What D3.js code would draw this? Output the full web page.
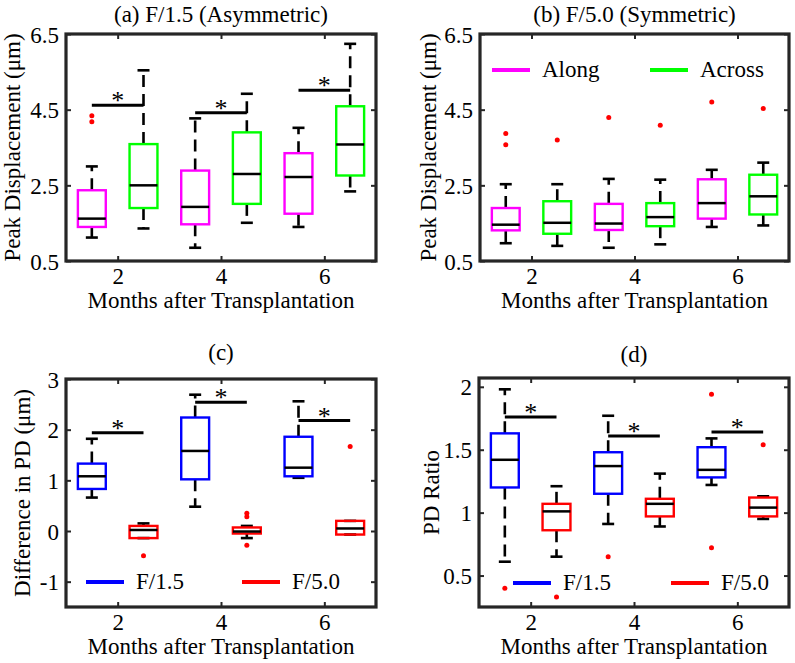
<!DOCTYPE html>
<html><head><meta charset="utf-8">
<script src="https://cdn.jsdelivr.net/npm/d3@7"></script>
<style>
body{margin:0;background:#fff}
svg{display:block}
text{font-family:"Liberation Serif","Times New Roman",serif;fill:#000}
</style>
</head><body>
<svg id="chart" width="795" height="663"></svg>
<script>
// ---------- data ----------
const months = [2, 4, 6];
// each stats row: [lower whisker, Q1, median, Q3, upper whisker]
// Panel (a) F/1.5 (Asymmetric)
const aAlongStats   = [[1.12, 1.40, 1.62, 2.37, 3.00], [0.85, 1.47, 1.93, 2.89, 4.27], [1.40, 1.75, 2.72, 3.35, 4.02]];
const aAlongOut     = [[4.18, 4.34], [], []];
const aAcrossStats  = [[1.36, 1.90, 2.50, 3.59, 5.54], [1.51, 2.01, 2.80, 3.90, 4.92], [2.34, 2.76, 3.58, 4.59, 6.24]];
const aAcrossOut    = [[], [], []];
const aSig          = [4.62, 4.42, 5.01];
// Panel (b) F/5.0 (Symmetric)
const bAlongStats   = [[0.97, 1.31, 1.46, 1.90, 2.53], [0.85, 1.32, 1.49, 2.01, 2.67], [1.40, 1.62, 2.03, 2.66, 2.91]];
const bAlongOut     = [[3.57, 3.87], [4.29], [4.70]];
const bAcrossStats  = [[0.90, 1.22, 1.51, 2.08, 2.53], [0.94, 1.42, 1.66, 2.03, 2.65], [1.44, 1.73, 2.21, 2.78, 3.10]];
const bAcrossOut    = [[3.70], [4.09], [4.53]];
// Panel (c) Difference in PD
const cF15Stats     = [[0.66, 0.83, 1.08, 1.33, 1.82], [0.48, 1.02, 1.58, 2.24, 2.69], [1.05, 1.08, 1.25, 1.86, 2.56]];
const cF15Out       = [[], [], []];
const cF50Stats     = [[-0.14, -0.14, 0.02, 0.10, 0.15], [-0.14, -0.05, -0.01, 0.07, 0.10], [-0.07, -0.07, 0.05, 0.20, 0.20]];
const cF50Out       = [[-0.49], [0.28, 0.35, -0.28], [1.67]];
const cSig          = [1.94, 2.54, 2.18];
// Panel (d) PD Ratio
const dF15Stats     = [[0.61, 1.20, 1.42, 1.63, 1.98], [0.91, 1.15, 1.37, 1.48, 1.77], [1.22, 1.28, 1.34, 1.52, 1.59]];
const dF15Out       = [[0.40], [0.65], [1.94, 0.72]];
const dF50Stats     = [[0.65, 0.86, 1.01, 1.07, 1.21], [0.89, 0.97, 1.07, 1.11, 1.31], [0.95, 0.97, 1.04, 1.12, 1.13]];
const dF50Out       = [[0.33], [], [1.54]];
const dSig          = [1.76, 1.61, 1.64];

const ticksAB = [0.5, 2.5, 4.5, 6.5];
const ticksC  = [-1, 0, 1, 2, 3];
const ticksD  = [0.5, 1, 1.5, 2];

// ---------- drawing ----------
const svg = d3.select("#chart");
const FS = 23;
const FRAME = "#262626";

function panel(cfg) {
  const g = svg.append("g");
  const x = d3.scaleLinear().domain([1, 7]).range([cfg.l, cfg.r]);
  const y = d3.scaleLinear().domain(cfg.yDomain).range([cfg.b, cfg.t]);
  const bw = 0.27; // half box width (months)

  const mk = (axis, tr) => {
    const a = g.append("g").attr("transform", tr).call(axis);
    a.select(".domain").remove();
    a.selectAll(".tick line").attr("stroke", FRAME).attr("stroke-width", 2);
    return a;
  };
  const xb = mk(d3.axisBottom(x).tickValues(months).tickSize(-5).tickFormat(d3.format("d")), `translate(0,${cfg.b})`);
  xb.selectAll("text").attr("y", 23).attr("dy", null).attr("font-size", FS).attr("font-family", null).style("fill", "#000");
  mk(d3.axisTop(x).tickValues(months).tickSize(-5).tickFormat(""), `translate(0,${cfg.t})`);
  const yl = mk(d3.axisLeft(y).tickValues(cfg.yTicks).tickSize(-5).tickFormat(cfg.fmt), `translate(${cfg.l},0)`);
  yl.selectAll("text").attr("x", -7).attr("dy", "0.35em").attr("font-size", FS).attr("font-family", null).style("fill", "#000");
  mk(d3.axisRight(y).tickValues(cfg.yTicks).tickSize(-5).tickFormat(""), `translate(${cfg.r},0)`);
  g.selectAll(".tick text").filter(function(){return this.textContent==="";}).remove();

  cfg.series.forEach(s => {
    months.forEach((m, i) => {
      const [lo, q1, med, q3, hi] = s.stats[i];
      const cx = m + s.off;
      g.append("line").attr("x1", x(cx)).attr("x2", x(cx)).attr("y1", y(q3)).attr("y2", y(hi))
        .attr("stroke", "#000").attr("stroke-width", 2.6).attr("stroke-dasharray", "12,7");
      g.append("line").attr("x1", x(cx)).attr("x2", x(cx)).attr("y1", y(q1)).attr("y2", y(lo))
        .attr("stroke", "#000").attr("stroke-width", 2.6).attr("stroke-dasharray", "12,7");
      [lo, hi].forEach(v => {
        g.append("line").attr("x1", x(cx) - 6).attr("x2", x(cx) + 6).attr("y1", y(v)).attr("y2", y(v))
          .attr("stroke", "#000").attr("stroke-width", 2.6);
      });
      g.append("rect").attr("x", x(cx - bw)).attr("width", x(cx + bw) - x(cx - bw))
        .attr("y", y(q3)).attr("height", Math.max(0.5, y(q1) - y(q3)))
        .attr("fill", "none").attr("stroke", s.color).attr("stroke-width", 2.4);
      g.append("line").attr("x1", x(cx - bw)).attr("x2", x(cx + bw)).attr("y1", y(med)).attr("y2", y(med))
        .attr("stroke", "#000").attr("stroke-width", 2.5);
      s.out[i].forEach(v => {
        g.append("circle").attr("cx", x(cx)).attr("cy", y(v)).attr("r", 2.5).attr("fill", "#ff0000");
      });
    });
  });

  if (cfg.sig) {
    months.forEach((m, i) => {
      g.append("line").attr("x1", x(m - 0.5)).attr("x2", x(m + 0.5)).attr("y1", y(cfg.sig[i])).attr("y2", y(cfg.sig[i]))
        .attr("stroke", "#000").attr("stroke-width", 3);
      g.append("text").attr("x", x(m)).attr("y", y(cfg.sig[i]) + 4).attr("text-anchor", "middle")
        .attr("font-size", FS + 3).text("*");
    });
  }

  g.append("rect").attr("x", cfg.l).attr("y", cfg.t).attr("width", cfg.r - cfg.l).attr("height", cfg.b - cfg.t)
    .attr("fill", "none").attr("stroke", FRAME).attr("stroke-width", 3.2);

  if (cfg.legend) {
    cfg.legend.forEach(it => {
      g.append("line").attr("x1", it.x).attr("x2", it.x + 38).attr("y1", it.y).attr("y2", it.y)
        .attr("stroke", it.color).attr("stroke-width", 4);
      g.append("text").attr("x", it.x + 50).attr("y", it.y + 7).attr("font-size", FS).text(it.label);
    });
  }

  g.append("text").attr("x", (cfg.l + cfg.r) / 2).attr("y", cfg.titleY).attr("text-anchor", "middle")
    .attr("font-size", FS).text(cfg.title);
  g.append("text").attr("x", (cfg.l + cfg.r) / 2).attr("y", cfg.b + 47).attr("text-anchor", "middle")
    .attr("font-size", FS).text("Months after Transplantation");
  g.append("text").attr("transform", `translate(${cfg.l - cfg.yLabOff},${(cfg.t + cfg.b) / 2}) rotate(-90)`)
    .attr("text-anchor", "middle").attr("font-size", FS).text(cfg.ylabel);
}

const f1 = d3.format(".1f");
const fg = d => String(d);

panel({l: 66, r: 376, t: 34, b: 261, yDomain: [0.5, 6.5], yTicks: ticksAB, fmt: f1,
  title: "(a) F/1.5 (Asymmetric)", titleY: 22, ylabel: "Peak Displacement (μm)", yLabOff: 46,
  series: [{stats: aAlongStats, out: aAlongOut, color: "#ff00ff", off: -0.5},
           {stats: aAcrossStats, out: aAcrossOut, color: "#00ff00", off: 0.5}],
  sig: aSig});

panel({l: 480, r: 789, t: 34, b: 261, yDomain: [0.5, 6.5], yTicks: ticksAB, fmt: f1,
  title: "(b) F/5.0 (Symmetric)", titleY: 22, ylabel: "Peak Displacement (μm)", yLabOff: 44,
  series: [{stats: bAlongStats, out: bAlongOut, color: "#ff00ff", off: -0.5},
           {stats: bAcrossStats, out: bAcrossOut, color: "#00ff00", off: 0.5}],
  legend: [{x: 492, y: 70, color: "#ff00ff", label: "Along"}, {x: 650, y: 70, color: "#00ff00", label: "Across"}]});

panel({l: 66, r: 376, t: 379, b: 607, yDomain: [-1.5, 3], yTicks: ticksC, fmt: fg,
  title: "(c)", titleY: 360, ylabel: "Difference in PD (μm)", yLabOff: 36,
  series: [{stats: cF15Stats, out: cF15Out, color: "#0000ff", off: -0.5},
           {stats: cF50Stats, out: cF50Out, color: "#ff0000", off: 0.5}],
  sig: cSig,
  legend: [{x: 86, y: 582, color: "#0000ff", label: "F/1.5"}, {x: 242, y: 582, color: "#ff0000", label: "F/5.0"}]});

panel({l: 479, r: 789, t: 378, b: 607, yDomain: [0.25, 2.07], yTicks: ticksD, fmt: fg,
  title: "(d)", titleY: 362, ylabel: "PD Ratio", yLabOff: 40,
  series: [{stats: dF15Stats, out: dF15Out, color: "#0000ff", off: -0.5},
           {stats: dF50Stats, out: dF50Out, color: "#ff0000", off: 0.5}],
  sig: dSig,
  legend: [{x: 513, y: 583, color: "#0000ff", label: "F/1.5"}, {x: 671, y: 583, color: "#ff0000", label: "F/5.0"}]});
</script>
</body></html>
